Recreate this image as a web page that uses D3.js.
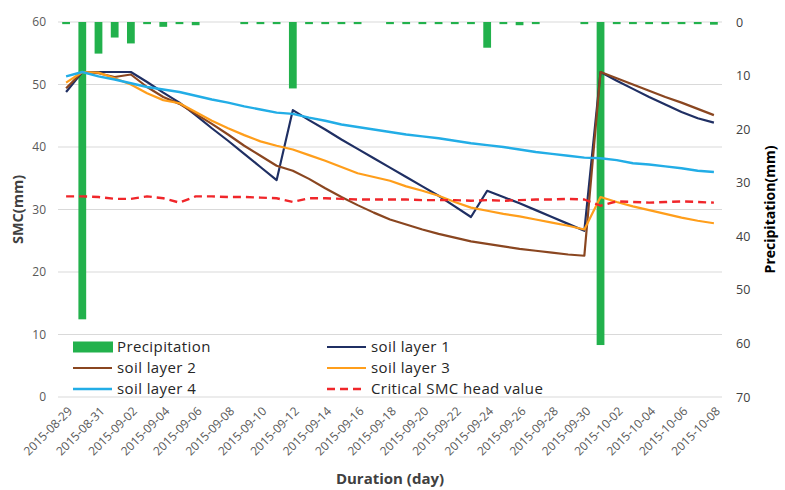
<!DOCTYPE html>
<html>
<head>
<meta charset="utf-8">
<script src="https://cdn.jsdelivr.net/npm/d3@7"></script>
<style>
  html, body { margin: 0; padding: 0; background: #fff; }
  svg { display: block; }
  text { font-family: "Open Sans", "Noto Sans", sans-serif; }
</style>
</head>
<body>
<svg id="chart" width="785" height="490"></svg>
<script>
// Daily dates on the category axis
const dates = [
  "2015-08-29","2015-08-30","2015-08-31","2015-09-01","2015-09-02","2015-09-03","2015-09-04",
  "2015-09-05","2015-09-06","2015-09-07","2015-09-08","2015-09-09","2015-09-10","2015-09-11",
  "2015-09-12","2015-09-13","2015-09-14","2015-09-15","2015-09-16","2015-09-17","2015-09-18",
  "2015-09-19","2015-09-20","2015-09-21","2015-09-22","2015-09-23","2015-09-24","2015-09-25",
  "2015-09-26","2015-09-27","2015-09-28","2015-09-29","2015-09-30","2015-10-01","2015-10-02",
  "2015-10-03","2015-10-04","2015-10-05","2015-10-06","2015-10-07","2015-10-08"
];

// Daily precipitation (mm), right axis, bars hang from the top
const precipitation = [
  0.4, 55.5, 5.9, 2.9, 4.0, 0.4, 0.9, 0.4, 0.6, 0, 0, 0.4, 0.4, 0.4,
  12.4, 0.4, 0.4, 0.4, 0.4, 0, 0.4, 0.4, 0.4, 0.4, 0.4, 0.4, 4.8, 0.4,
  0.6, 0.4, 0, 0, 0.4, 60.3, 0.4, 0.4, 0.4, 0.4, 0.4, 0.4, 0.5
];

// Soil moisture content (mm) per layer
const layer1 = [
  48.8, 52.0, 52.0, 52.0, 52.0, 50.4, 48.7, 47.1, 45.1, 43.0, 41.0, 38.9, 36.8, 34.7,
  45.9, 44.3, 42.8, 41.2, 39.7, 38.2, 36.7, 35.2, 33.7, 32.2, 30.5, 28.8, 33.0, 32.0,
  31.0, 29.9, 28.8, 27.7, 26.6, 52.0, 50.6, 49.3, 48.0, 46.8, 45.6, 44.6, 43.9
];
const layer2 = [
  49.4, 52.0, 51.8, 51.2, 51.6, 49.6, 48.0, 46.9, 45.3, 43.7, 42.0, 40.2, 38.6, 37.0,
  36.2, 34.9, 33.4, 32.0, 30.7, 29.5, 28.4, 27.6, 26.8, 26.1, 25.5, 24.9, 24.5, 24.1,
  23.7, 23.4, 23.1, 22.8, 22.6, 52.0, 51.0, 50.0, 49.0, 48.0, 47.1, 46.1, 45.1
];
const layer3 = [
  50.3, 52.0, 51.9, 51.0, 50.0, 48.6, 47.5, 47.0, 45.6, 44.2, 43.0, 41.9, 40.9, 40.2,
  39.6, 38.7, 37.8, 36.8, 35.8, 35.2, 34.6, 33.7, 33.0, 32.2, 31.2, 30.3, 29.8, 29.3,
  28.9, 28.4, 27.9, 27.4, 26.8, 32.0, 31.2, 30.5, 29.9, 29.3, 28.7, 28.2, 27.8
];
const layer4 = [
  51.3, 52.0, 51.3, 50.8, 50.2, 49.6, 49.2, 48.8, 48.2, 47.6, 47.1, 46.5, 46.0, 45.5,
  45.3, 44.7, 44.2, 43.6, 43.2, 42.8, 42.4, 42.0, 41.7, 41.4, 41.0, 40.6, 40.3, 40.0,
  39.6, 39.2, 38.9, 38.6, 38.3, 38.2, 37.9, 37.4, 37.2, 36.9, 36.6, 36.2, 36.0
];
// Critical SMC head value (mm)
const critical = [
  32.1, 32.1, 32.0, 31.7, 31.7, 32.1, 31.8, 31.1, 32.1, 32.1, 32.0, 32.0, 31.9, 31.8,
  31.2, 31.8, 31.8, 31.7, 31.6, 31.6, 31.6, 31.6, 31.5, 31.5, 31.5, 31.4, 31.5, 31.4,
  31.5, 31.6, 31.6, 31.7, 31.6, 30.6, 31.3, 31.2, 31.1, 31.2, 31.3, 31.2, 31.1
];

const leftTicks = [0, 10, 20, 30, 40, 50, 60];
const rightTicks = [0, 10, 20, 30, 40, 50, 60, 70];

const series = [
  { name: "soil layer 1", values: layer1, color: "#1F2F63", width: 2.2, dash: null },
  { name: "soil layer 2", values: layer2, color: "#8A4620", width: 2.2, dash: null },
  { name: "soil layer 3", values: layer3, color: "#FF9E1B", width: 2.2, dash: null },
  { name: "soil layer 4", values: layer4, color: "#22ADE6", width: 2.4, dash: null },
  { name: "Critical SMC head value", values: critical, color: "#F0262A", width: 2.4, dash: "8,5" }
];

const svg = d3.select("#chart");
const plot = { left: 58, right: 722, top: 22, bottom: 397 };

const x = d3.scaleBand().domain(dates).range([plot.left, plot.right]).paddingInner(0).paddingOuter(0);
const yL = d3.scaleLinear().domain([0, 60]).range([plot.bottom, plot.top]);
const yR = d3.scaleLinear().domain([0, 70]).range([plot.top, plot.bottom]);
const cx = d => x(d) + x.bandwidth() / 2;

// Horizontal gridlines
svg.append("g").selectAll("line").data(leftTicks).join("line")
  .attr("x1", plot.left).attr("x2", plot.right)
  .attr("y1", d => yL(d)).attr("y2", d => yL(d))
  .attr("stroke", "#D9D9D9").attr("stroke-width", 1.2);

// Left axis (SMC)
const leftAxis = d3.axisLeft(yL).tickValues(leftTicks).tickSize(0).tickPadding(12);
const gL = svg.append("g").attr("transform", `translate(${plot.left},0)`).call(leftAxis);
gL.select(".domain").remove();
gL.selectAll("text").attr("fill", "#595959").style("font-size", "12px");

// Right axis (precipitation)
const rightAxis = d3.axisRight(yR).tickValues(rightTicks).tickSize(0).tickPadding(14);
const gR = svg.append("g").attr("transform", `translate(${plot.right},0)`).call(rightAxis);
gR.select(".domain").remove();
gR.selectAll("text").attr("fill", "#404040").style("font-size", "12.5px");

// Bottom axis: labels every other day, rotated
const bottomAxis = d3.axisBottom(x).tickValues(dates.filter((d, i) => i % 2 === 0)).tickSize(0);
const gB = svg.append("g").attr("transform", `translate(0,${plot.bottom})`).call(bottomAxis);
gB.select(".domain").remove();
gB.selectAll("text")
  .attr("fill", "#595959").style("font-size", "12px")
  .attr("text-anchor", "end")
  .attr("x", 0).attr("y", 0).attr("dy", "0.35em")
  .attr("transform", "translate(4,12) rotate(-45)");

// Precipitation bars
const barW = x.bandwidth() * 0.48;
svg.append("g").selectAll("rect").data(dates).join("rect")
  .attr("x", d => cx(d) - barW / 2)
  .attr("y", yR(0))
  .attr("width", barW)
  .attr("height", (d, i) => yR(precipitation[i]) - yR(0))
  .attr("fill", "#22B14C");

// SMC lines
const line = d3.line().x((v, i) => cx(dates[i])).y(v => yL(v));
svg.append("g").selectAll("path").data(series).join("path")
  .attr("d", s => line(s.values))
  .attr("fill", "none")
  .attr("stroke", s => s.color)
  .attr("stroke-width", s => s.width)
  .attr("stroke-dasharray", s => s.dash)
  .attr("stroke-linejoin", "round");

// Axis titles
svg.append("text")
  .attr("transform", `translate(23,${(plot.top + plot.bottom) / 2}) rotate(-90)`)
  .attr("text-anchor", "middle")
  .attr("fill", "#404040").style("font-size", "14.5px").style("font-weight", "bold")
  .text("SMC(mm)");
svg.append("text")
  .attr("transform", `translate(775,${(plot.top + plot.bottom) / 2}) rotate(-90)`)
  .attr("text-anchor", "middle")
  .attr("fill", "#000").style("font-size", "14px").style("font-weight", "bold")
  .text("Precipitation(mm)");
svg.append("text")
  .attr("x", (plot.left + plot.right) / 2).attr("y", 484)
  .attr("text-anchor", "middle")
  .attr("fill", "#404040").style("font-size", "15px").style("font-weight", "bold")
  .text("Duration (day)");

// Legend, two columns inside the plot
const legendItems = [
  { name: "Precipitation", type: "bar", color: "#22B14C" },
  series[0], series[1], series[2], series[3], series[4]
];
const legend = svg.append("g");
legendItems.forEach((item, i) => {
  const col = i % 2, row = Math.floor(i / 2);
  const lx = col === 0 ? 73 : 327;
  const ly = 347 + row * 21;
  const g = legend.append("g").attr("transform", `translate(${lx},${ly})`);
  if (item.type === "bar") {
    g.append("rect").attr("x", 0).attr("y", -5.5).attr("width", 40).attr("height", 11).attr("fill", item.color);
  } else {
    g.append("line").attr("x1", 0).attr("x2", 39).attr("y1", 0).attr("y2", 0)
      .attr("stroke", item.color).attr("stroke-width", item.width)
      .attr("stroke-dasharray", item.dash);
  }
  g.append("text").attr("x", 44).attr("y", 0).attr("dy", "0.36em")
    .attr("fill", "#262626").style("font-size", "15px").style("letter-spacing", "0.4px")
    .text(item.name);
});
</script>
</body>
</html>
